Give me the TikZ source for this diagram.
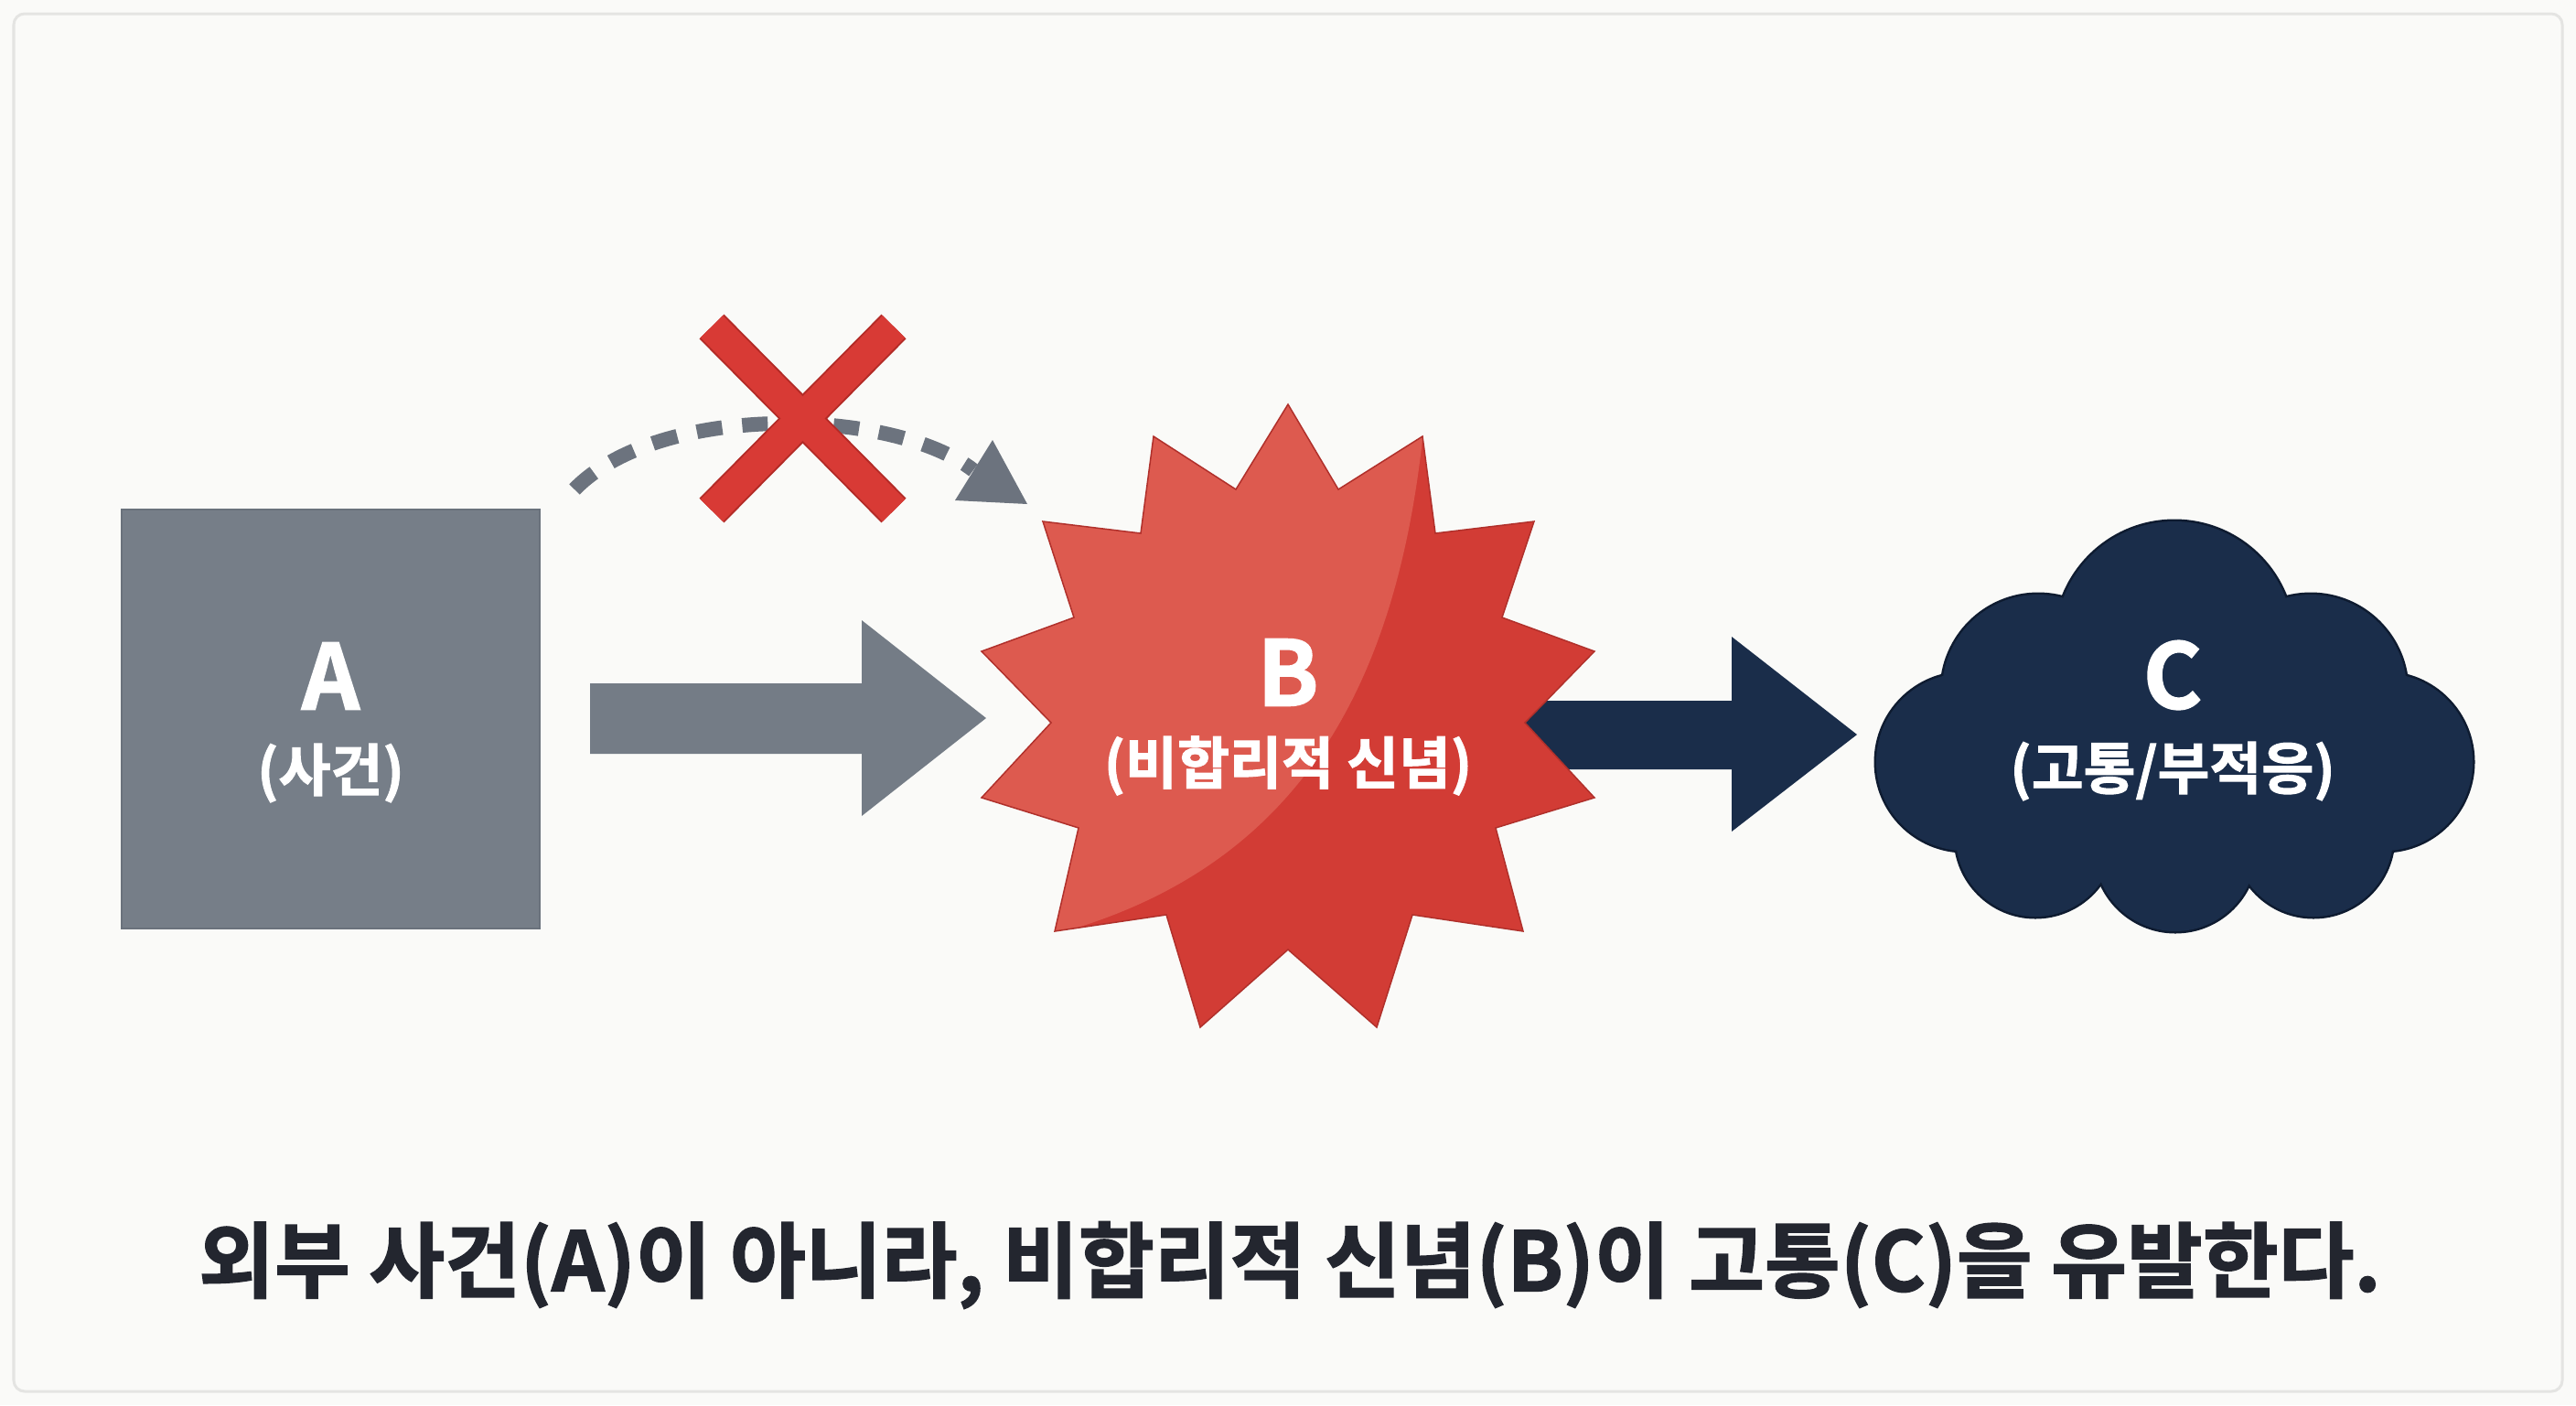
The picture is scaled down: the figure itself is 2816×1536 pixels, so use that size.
\documentclass[tikz,border=0pt]{standalone}
\usepackage{fontspec}
\setmainfont{Noto Sans CJK KR}[BoldFont={* Bold}, BoldFeatures={FakeBold=1.6}]
\begin{document}
\begin{tikzpicture}[x=0.01cm,y=-0.01cm]
\definecolor{bg}{HTML}{FAFAF8}
\definecolor{framec}{HTML}{E4E4E2}
\definecolor{grayA}{HTML}{767E88}
\definecolor{grayEdge}{HTML}{6A727C}
\definecolor{grayArrow}{HTML}{747C86}
\definecolor{dashc}{HTML}{6C737E}
\definecolor{starLight}{HTML}{DD5A4F}
\definecolor{starDark}{HTML}{D23C35}
\definecolor{starEdge}{HTML}{B0302B}
\definecolor{xred}{HTML}{D83A35}
\definecolor{xedge}{HTML}{B32B27}
\definecolor{navy}{HTML}{1A2D4A}
\definecolor{navyEdge}{HTML}{0E1B30}
\definecolor{textc}{HTML}{23262F}
\tikzset{
  letter/.style={text=white, font=\fontsize{28}{32}\selectfont\bfseries, inner sep=0pt},
  sublbl/.style={text=white, font=\fontsize{17.6}{20}\selectfont\bfseries, inner sep=0pt},
  caption/.style={text=textc, font=\fontsize{25.6}{29}\selectfont\bfseries, inner sep=0pt},
  dashline/.style={draw=dashc, line width=0.16cm, dash pattern=on 0.28cm off 0.22cm},
  xbar/.style={line width=0.36cm, line cap=butt},
}
% background and frame
\fill[bg] (0,0) rectangle (2816,1536);
\useasboundingbox (0,0) rectangle (2816,1536);
\draw[framec, line width=0.03cm, rounded corners=0.12cm] (15,15) rectangle (2801,1521);

% ---- A box
\node[draw=grayEdge, fill=grayA, line width=0.02cm, minimum width=4.57cm, minimum height=4.58cm, inner sep=0pt] (A) at (361.5,786) {};
\node[letter] (Aletter) at (361.5,739) {A};
\node[sublbl] (Asub) at (361.5,845) {(사건)};

% ---- gray block arrow A -> B
\coordinate (gaS) at (645,785.5);
\coordinate (gaT) at (1078,785);
\fill[grayArrow] (645,747) -- (942,747) -- (942,678) -- (gaT) -- (942,892) -- (942,824) -- (645,824) -- cycle;

% ---- dashed curved arrow (blocked)
\coordinate (dS) at (628,535);
\coordinate (dE) at (1064,514);
\draw[dashline] (dS) .. controls (720,440) and (975,445) .. (dE);
\fill[dashc] (1123,551) -- (1085,481) -- (1044,547) -- cycle;

% ---- red X
\draw[xedge, xbar, line width=0.38cm] (778,357) -- (977,558);
\draw[xedge, xbar, line width=0.38cm] (977,357) -- (778,558);
\draw[xred, xbar, line width=0.34cm] (778,357) -- (977,558);
\draw[xred, xbar, line width=0.34cm] (977,357) -- (778,558);

% ---- navy block arrow B -> C (under the star)
\coordinate (naT) at (2030,803);
\fill[navy] (1640,766) -- (1893,766) -- (1893,696) -- (naT) -- (1893,909) -- (1893,841) -- (1640,841) -- cycle;

% ---- star B
\def\starpath{(1408,442) -- (1463,535) -- (1555,477) -- (1569,583) -- (1677,570) -- (1642,675) -- (1743,712) -- (1667,790) -- (1743,872) -- (1635,905) -- (1665,1018) -- (1544,1000) -- (1505,1123) -- (1408,1038) -- (1312,1123) -- (1275,1000) -- (1153,1018) -- (1179,905) -- (1073,872) -- (1149,790) -- (1073,712) -- (1174,675) -- (1140,570) -- (1247,583) -- (1261,477) -- (1351,535) -- cycle}
\begin{scope}
  \clip \starpath;
  \fill[starDark] (1000,400) rectangle (1800,1200);
  \fill[starLight] (1557,440) -- (1555,480) .. controls (1525,750) and (1420,950) .. (1150,1022) -- (1000,1100) -- (1000,400) -- (1560,400) -- cycle;
\end{scope}
\draw[starEdge, line width=0.015cm, line join=miter] \starpath;
\node[minimum size=5cm, inner sep=0pt] (B) at (1408,787) {};
\node[letter] (Bletter) at (1408,735) {B};
\node[sublbl] (Bsub) at (1408,837) {(비합리적 신념)};

% ---- cloud C
\foreach \cx/\cy/\r in {2377/700/130, 2228/755/105, 2526/755/105, 2148/833/97, 2606/833/97, 2225/915/87, 2378/930/88, 2529/915/87}
  \fill[navyEdge] (\cx,\cy) circle[radius=\r+2.5];
\foreach \cx/\cy/\r in {2377/700/130, 2228/755/105, 2526/755/105, 2148/833/97, 2606/833/97, 2225/915/87, 2378/930/88, 2529/915/87}
  \fill[navy] (\cx,\cy) circle[radius=\r];
\fill[navy] (2150,700) rectangle (2604,935);
\node[minimum width=6.5cm, minimum height=4.4cm, inner sep=0pt] (C) at (2375,793) {};
\node[letter] (Cletter) at (2375,738) {C};
\node[sublbl] (Csub) at (2375,843) {(고통/부적응)};

% ---- caption
\node[caption] (cap) at (1410,1383) {외부 사건(A)이 아니라, 비합리적 신념(B)이 고통(C)을 유발한다.};
\end{tikzpicture}
\end{document}
